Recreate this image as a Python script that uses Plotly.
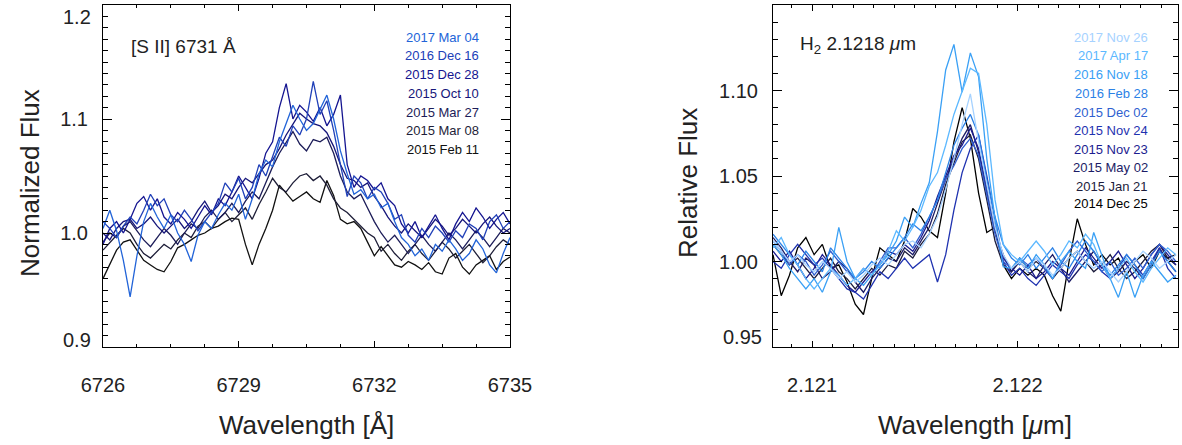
import plotly.graph_objects as go

W, H = 1182, 445

# ---------------- Left panel: [S II] 6731 A ----------------
wl_sii = [round(6726 + 0.15 * i, 2) for i in range(61)]
sii_xticks = [6726, 6729, 6732, 6735]
sii_yticks = [0.9, 1.0, 1.1, 1.2]

sii_dates = ["2017 Mar 04", "2016 Dec 16", "2015 Dec 28", "2015 Oct 10",
             "2015 Mar 27", "2015 Mar 08", "2015 Feb 11"]
sii_colors = ["#2264d8", "#2040b8", "#141490", "#16167a",
              "#1c1c58", "#1e1e38", "#111111"]

sii_mar04_2017 = [1.004, 1.020, 1.002, 0.976, 0.944, 0.980, 1.010, 1.026, 1.014, 1.004,
                  1.016, 1.000, 0.990, 0.975, 0.998, 1.010, 1.004, 1.016, 1.026, 1.020,
                  1.034, 1.012, 1.030, 1.052, 1.064, 1.058, 1.080, 1.096, 1.112, 1.100,
                  1.090, 1.096, 1.108, 1.121, 1.100, 1.072, 1.052, 1.034, 1.038, 1.030,
                  1.034, 1.022, 1.026, 1.010, 0.996, 0.990, 0.980, 0.986, 0.976, 0.990,
                  0.984, 0.994, 0.986, 0.976, 0.982, 0.994, 0.986, 0.972, 0.965, 0.982, 0.996]
sii_dec16_2016 = [1.010, 1.004, 0.996, 1.006, 1.014, 1.008, 1.020, 1.034, 1.024, 1.030,
                  1.016, 1.010, 1.020, 1.012, 1.002, 1.010, 1.018, 1.026, 1.044, 1.036,
                  1.048, 1.030, 1.040, 1.060, 1.050, 1.068, 1.084, 1.076, 1.094, 1.086,
                  1.100, 1.133, 1.104, 1.116, 1.090, 1.060, 1.032, 1.050, 1.044, 1.030,
                  1.040, 1.036, 1.026, 1.012, 1.016, 0.998, 0.992, 1.004, 0.996, 1.006,
                  1.000, 0.992, 1.002, 0.996, 1.008, 1.004, 0.994, 1.010, 1.016, 1.004, 1.010]
sii_dec28_2015 = [0.990, 1.004, 1.010, 1.000, 1.012, 1.026, 1.032, 1.020, 1.030, 1.014,
                  1.008, 1.018, 1.012, 1.004, 1.014, 1.024, 1.016, 1.030, 1.024, 1.036,
                  1.050, 1.040, 1.030, 1.048, 1.070, 1.080, 1.110, 1.131, 1.100, 1.112,
                  1.106, 1.098, 1.110, 1.094, 1.104, 1.121, 1.060, 1.040, 1.050, 1.046,
                  1.038, 1.044, 1.030, 1.024, 1.008, 1.000, 1.010, 0.996, 1.006, 1.016,
                  1.004, 0.994, 1.008, 1.018, 1.010, 1.022, 1.014, 1.004, 1.012, 1.018, 1.008]
sii_oct10_2015 = [1.000, 0.994, 1.004, 1.010, 1.012, 1.004, 1.008, 1.014, 1.006, 1.000,
                  1.006, 1.012, 1.004, 1.010, 1.020, 1.028, 1.018, 1.024, 1.034, 1.030,
                  1.040, 1.048, 1.044, 1.052, 1.060, 1.064, 1.074, 1.086, 1.096, 1.105,
                  1.100, 1.096, 1.094, 1.088, 1.076, 1.060, 1.048, 1.046, 1.040, 1.044,
                  1.032, 1.024, 1.014, 1.006, 1.000, 1.008, 1.002, 0.996, 1.004, 1.012,
                  1.006, 0.998, 1.004, 1.012, 1.006, 1.000, 1.008, 1.014, 1.006, 1.000, 1.004]
sii_mar27_2015 = [0.992, 1.000, 0.996, 1.006, 1.010, 1.002, 0.994, 0.988, 0.996, 1.004,
                  0.998, 0.990, 1.000, 1.008, 1.004, 1.014, 1.020, 1.012, 1.018, 1.026,
                  1.018, 1.028, 1.036, 1.030, 1.044, 1.058, 1.070, 1.080, 1.089, 1.078,
                  1.072, 1.082, 1.080, 1.084, 1.070, 1.050, 1.036, 1.030, 1.034, 1.022,
                  1.010, 1.000, 0.992, 0.998, 0.990, 0.982, 0.990, 0.998, 0.990, 0.984,
                  0.992, 1.000, 0.994, 0.986, 0.994, 1.002, 0.996, 0.988, 0.996, 1.004, 1.000]
sii_mar08_2015 = [0.985, 0.992, 0.998, 1.004, 1.000, 0.990, 0.982, 0.978, 0.984, 0.990,
                  0.986, 0.994, 1.000, 0.996, 1.006, 1.010, 1.004, 1.012, 1.018, 1.010,
                  1.016, 1.022, 1.012, 1.025, 1.036, 1.048, 1.040, 1.036, 1.044, 1.050,
                  1.052, 1.046, 1.050, 1.042, 1.030, 1.022, 1.018, 1.012, 1.006, 1.000,
                  0.996, 0.984, 0.990, 0.982, 0.976, 0.984, 0.990, 0.982, 0.976, 0.984,
                  0.992, 0.986, 0.978, 0.984, 0.990, 0.982, 0.974, 0.980, 0.988, 0.994, 0.990]
sii_feb11_2015 = [0.960, 0.972, 0.985, 0.992, 0.994, 0.985, 0.976, 0.972, 0.968, 0.966,
                  0.975, 0.987, 0.990, 0.994, 0.998, 1.000, 1.004, 1.006, 1.010, 1.013,
                  1.012, 0.990, 0.972, 0.990, 1.004, 1.020, 1.042, 1.035, 1.028, 1.032,
                  1.036, 1.030, 1.027, 1.046, 1.033, 1.012, 1.008, 1.010, 1.004, 0.992,
                  0.980, 0.988, 0.980, 0.972, 0.970, 0.975, 0.972, 0.968, 0.974, 0.966,
                  0.964, 0.978, 0.982, 0.970, 0.964, 0.972, 0.976, 0.980, 0.968, 0.975, 0.979]

sii_series = [sii_mar04_2017, sii_dec16_2016, sii_dec28_2015, sii_oct10_2015,
              sii_mar27_2015, sii_mar08_2015, sii_feb11_2015]

# ---------------- Right panel: H2 2.1218 um ----------------
wl_h2 = [round(2.12081 + 0.00004 * i, 6) for i in range(50)]
h2_xticks = [2.121, 2.122]
h2_yticks = [0.95, 1.00, 1.05, 1.10]

h2_dates = ["2017 Nov 26", "2017 Apr 17", "2016 Nov 18", "2016 Feb 28", "2015 Dec 02",
            "2015 Nov 24", "2015 Nov 23", "2015 May 02", "2015 Jan 21", "2014 Dec 25"]
h2_colors = ["#a6d2ff", "#5cb8ff", "#3aa0f5", "#2c82e6", "#2f5fd0",
             "#1f32b0", "#1c1c90", "#1c1c66", "#1c1c3c", "#000000"]

h2_nov26_2017 = [1.012, 1.006, 1.000, 1.004, 0.998, 0.994, 1.000, 0.996, 0.990, 0.994,
                 0.988, 0.992, 0.998, 1.002, 0.998, 1.004, 1.010, 1.012, 1.008, 1.016,
                 1.026, 1.042, 1.060, 1.080, 1.098, 1.070, 1.044, 1.020, 1.004, 0.996,
                 1.000, 0.994, 1.002, 0.998, 0.992, 0.996, 1.002, 1.006, 1.000, 0.996,
                 1.000, 0.994, 0.988, 0.994, 1.000, 1.006, 1.002, 0.996, 1.000, 1.004]
h2_apr17_2017 = [1.008, 1.014, 1.004, 0.998, 0.990, 0.984, 0.990, 0.996, 0.992, 0.986,
                 0.990, 0.996, 0.992, 0.998, 1.006, 1.018, 1.012, 1.020, 1.030, 1.044,
                 1.052, 1.068, 1.086, 1.100, 1.113, 1.110, 1.080, 1.036, 1.010, 1.004,
                 1.000, 1.006, 1.012, 1.006, 0.998, 1.004, 1.012, 1.008, 1.016, 1.010,
                 0.998, 0.990, 0.996, 1.002, 0.994, 0.988, 0.996, 1.002, 1.008, 1.004]
h2_nov18_2016 = [1.010, 1.004, 0.996, 0.990, 0.984, 0.990, 0.982, 0.994, 1.020, 1.000,
                 0.990, 0.986, 0.992, 0.998, 1.004, 1.012, 1.026, 1.020, 1.034, 1.046,
                 1.076, 1.112, 1.127, 1.099, 1.122, 1.108, 1.060, 1.025, 0.997, 0.996,
                 1.002, 0.996, 1.004, 0.998, 0.990, 1.000, 1.006, 1.000, 0.996, 1.017,
                 1.004, 0.990, 0.979, 0.994, 0.979, 0.992, 1.000, 0.994, 0.988, 0.992]
h2_feb28_2016 = [1.016, 1.010, 1.004, 0.998, 1.006, 1.000, 0.994, 1.008, 1.002, 0.996,
                 0.990, 0.994, 1.000, 0.996, 1.002, 1.008, 1.014, 1.022, 1.018, 1.026,
                 1.036, 1.052, 1.068, 1.078, 1.086, 1.074, 1.048, 1.026, 1.010, 1.002,
                 0.998, 1.004, 0.996, 1.002, 1.008, 1.000, 0.996, 1.004, 1.012, 1.006,
                 0.998, 0.992, 0.998, 1.004, 0.998, 0.990, 0.998, 1.006, 1.000, 0.994]
h2_dec02_2015 = [1.012, 1.006, 0.998, 1.004, 1.000, 0.992, 0.998, 1.006, 1.000, 0.994,
                 0.990, 0.996, 0.992, 1.000, 1.008, 1.008, 1.014, 1.008, 1.016, 1.026,
                 1.036, 1.048, 1.056, 1.066, 1.072, 1.062, 1.040, 1.016, 1.000, 0.996,
                 1.002, 0.998, 1.002, 0.996, 0.990, 0.998, 1.006, 1.012, 1.006, 1.000,
                 0.994, 1.000, 0.992, 0.996, 1.002, 0.996, 1.004, 1.010, 1.006, 1.000]
h2_nov24_2015 = [1.000, 0.996, 1.004, 1.010, 1.004, 0.998, 1.002, 0.996, 0.990, 0.984,
                 0.982, 0.978, 0.986, 0.994, 0.990, 0.996, 1.002, 0.996, 1.000, 1.004,
                 0.988, 1.004, 1.030, 1.052, 1.066, 1.074, 1.050, 1.024, 1.000, 0.992,
                 0.996, 0.990, 0.986, 0.992, 0.998, 0.994, 0.990, 0.998, 1.004, 1.000,
                 0.994, 0.990, 0.996, 1.004, 0.998, 0.992, 1.000, 1.008, 0.996, 0.990]
h2_nov23_2015 = [1.006, 1.000, 1.006, 0.998, 0.990, 0.996, 1.004, 0.998, 0.992, 0.986,
                 0.982, 0.988, 0.994, 0.998, 1.006, 1.004, 1.010, 1.006, 1.014, 1.024,
                 1.038, 1.050, 1.062, 1.068, 1.078, 1.066, 1.044, 1.020, 1.002, 0.996,
                 0.992, 0.998, 0.990, 0.994, 1.000, 0.996, 0.992, 1.000, 1.008, 1.002,
                 0.996, 1.000, 1.006, 0.998, 0.990, 0.996, 1.004, 1.010, 1.004, 0.998]
h2_may02_2015 = [1.014, 1.008, 1.000, 0.994, 1.002, 0.998, 0.990, 0.994, 1.000, 0.996,
                 0.988, 0.982, 0.990, 0.996, 1.002, 1.000, 1.008, 1.004, 1.012, 1.020,
                 1.034, 1.048, 1.060, 1.072, 1.080, 1.064, 1.040, 1.018, 1.004, 0.994,
                 1.000, 0.994, 0.990, 0.998, 1.004, 0.996, 0.988, 0.994, 1.000, 1.006,
                 0.998, 0.990, 0.994, 1.000, 0.996, 0.990, 0.998, 1.008, 1.000, 0.994]
h2_jan21_2015 = [1.010, 1.004, 0.998, 1.002, 0.996, 0.990, 0.996, 1.002, 0.994, 0.990,
                 0.984, 0.990, 0.996, 0.992, 0.998, 0.996, 1.006, 1.002, 1.010, 1.016,
                 1.028, 1.045, 1.058, 1.070, 1.074, 1.060, 1.036, 1.012, 0.998, 0.994,
                 1.002, 0.996, 1.000, 0.996, 0.990, 0.996, 1.002, 1.006, 1.000, 0.994,
                 0.998, 1.004, 0.996, 0.990, 0.994, 1.000, 1.006, 1.010, 1.002, 0.998]
h2_dec25_2014 = [1.004, 0.980, 0.992, 1.008, 1.014, 1.004, 1.010, 0.996, 0.998, 0.988,
                 0.975, 0.969, 0.990, 1.008, 1.004, 1.000, 1.012, 1.031, 1.026, 1.018,
                 1.014, 1.040, 1.070, 1.090, 1.072, 1.040, 1.017, 1.020, 0.998, 0.990,
                 0.996, 0.992, 0.996, 0.992, 0.980, 0.971, 1.000, 1.025, 1.010, 0.998,
                 1.004, 0.998, 1.002, 0.992, 1.000, 1.004, 0.996, 1.006, 1.002, 1.004]

h2_series = [h2_nov26_2017, h2_apr17_2017, h2_nov18_2016, h2_feb28_2016, h2_dec02_2015,
             h2_nov24_2015, h2_nov23_2015, h2_may02_2015, h2_jan21_2015, h2_dec25_2014]

FONT = "Liberation Sans, Arial, Helvetica, sans-serif"
TXT = "#222222"

fig = go.Figure()

for name, col, ys in reversed(list(zip(sii_dates, sii_colors, sii_series))):
    fig.add_trace(go.Scatter(x=wl_sii, y=ys, mode="lines", name=name,
                             line=dict(color=col, width=1.3), xaxis="x", yaxis="y",
                             showlegend=False))
for name, col, ys in reversed(list(zip(h2_dates, h2_colors, h2_series))):
    fig.add_trace(go.Scatter(x=wl_h2, y=ys, mode="lines", name=name,
                             line=dict(color=col, width=1.3), xaxis="x2", yaxis="y2",
                             showlegend=False))


def px_x(p):
    return p / W


def px_y(p):
    return 1 - p / H


ydom = [px_y(347), px_y(5)]

common_axis = dict(showline=True, linecolor="black", linewidth=1, mirror="ticks",
                   ticks="inside", tickcolor="black", tickwidth=1, showgrid=False,
                   zeroline=False, automargin=False, tickmode="array",
                   tickfont=dict(family=FONT, size=20, color=TXT))


def minor(dt, t0, ln):
    return dict(dtick=dt, tick0=t0, ticklen=ln, tickcolor="black", tickwidth=1,
                ticks="inside", showgrid=False)


def ylab(vals, fmt, hide):
    return [("" if v in hide else fmt % v) for v in vals]


fig.update_layout(
    template="none",
    width=W, height=H, margin=dict(l=0, r=0, t=0, b=0, autoexpand=False),
    paper_bgcolor="white", plot_bgcolor="white", showlegend=False,
    xaxis=dict(domain=[px_x(103), px_x(510)], range=[6726, 6735], tickvals=sii_xticks,
               ticktext=[str(v) for v in sii_xticks],
               ticklen=6, ticklabelstandoff=20, anchor="y",
               minor=minor(0.75, 6726, 3), **common_axis),
    yaxis=dict(domain=ydom, range=[0.9, 1.2], tickvals=sii_yticks,
               ticktext=ylab(sii_yticks, "%.1f", (0.9, 1.2)),
               ticklen=9, ticklabelstandoff=10, anchor="x",
               minor=minor(0.01, 0.9, 5), **common_axis),
    xaxis2=dict(domain=[px_x(773), px_x(1178)], range=[2.12081, 2.12278], tickvals=h2_xticks,
                ticktext=["%.3f" % v for v in h2_xticks],
                ticklen=6, ticklabelstandoff=20, anchor="y2",
                minor=minor(0.0001, 2.121, 3), **common_axis),
    yaxis2=dict(domain=ydom, range=[0.95, 1.15], tickvals=h2_yticks,
                ticktext=ylab(h2_yticks, "%.2f", (0.95,)),
                ticklen=9, ticklabelstandoff=10, anchor="x2",
                minor=minor(0.01, 0.95, 5), **common_axis),
)

ann = []


def text(t, x, y, size, color=TXT, xanchor="center", angle=0):
    ann.append(dict(text=t, x=px_x(x), y=px_y(y), xref="paper", yref="paper",
                    xanchor=xanchor, yanchor="middle", showarrow=False, textangle=angle,
                    font=dict(family=FONT, size=size, color=color)))


# edge tick labels nudged inside the figure like the original
text("1.2", 93, 17, 20, xanchor="right")
text("0.9", 93, 340, 20, xanchor="right")
text("0.95", 764, 337, 20, xanchor="right")

text("Wavelength [Å]", 306, 425, 26)
text("Wavelength [<i>μ</i>m]", 975, 425, 26)
text("Normalized Flux", 30, 183, 26, angle=-90)
text("Relative Flux", 688, 183, 26, angle=-90)
text("[S II] 6731 Å", 129, 47, 19, xanchor="left")
text("H<sub>2</sub> 2.1218 <i>μ</i>m", 798, 45, 19, xanchor="left")

sii_leg_y = [37, 56, 74, 93, 112, 131, 149]
for d, c, yy in zip(sii_dates, sii_colors, sii_leg_y):
    text(d, 481, yy, 13, color=c, xanchor="right")
h2_leg_y = [37, 56, 74, 93, 112, 130, 149, 167, 186, 204]
for d, c, yy in zip(h2_dates, h2_colors, h2_leg_y):
    text(d, 1150, yy, 13, color=c, xanchor="right")

fig.update_layout(annotations=ann)

fig.write_html("out.html")
